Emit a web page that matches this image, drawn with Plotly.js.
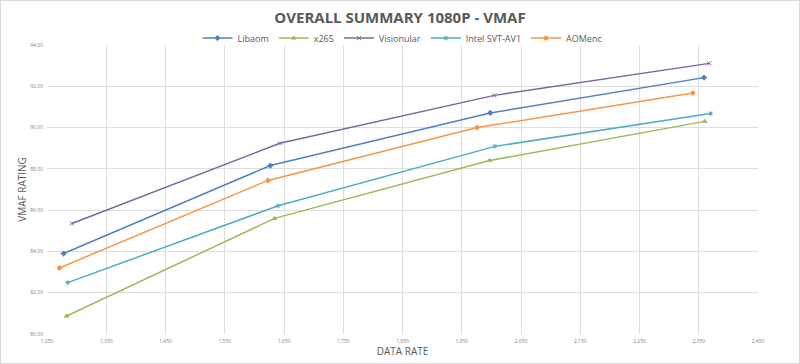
<!DOCTYPE html>
<html>
<head>
<meta charset="utf-8">
<script src="https://cdn.plot.ly/plotly-3.0.1.min.js"></script>
<style>
html,body{margin:0;padding:0;background:#fff;}
#chart{width:800px;height:364px;box-sizing:border-box;border:1px solid #D9D9D9;}
</style>
</head>
<body>
<div id="chart"></div>
<script>
// Data
const libaomRate = [1278, 1627, 1998, 2359];
const libaomVmaf = [83.90, 88.16, 90.71, 92.42];
const x265Rate = [1283, 1634, 1997, 2360];
const x265Vmaf = [80.87, 85.60, 88.40, 90.30];
const visionularRate = [1292, 1643, 2005, 2368];
const visionularVmaf = [85.35, 89.24, 91.56, 93.11];
const intelRate = [1285, 1640, 2006, 2370];
const intelVmaf = [82.49, 86.21, 89.09, 90.68];
const aomencRate = [1271, 1623, 1976, 2340];
const aomencVmaf = [83.20, 87.44, 90.00, 91.67];

const xTickVals = [1250, 1350, 1450, 1550, 1650, 1750, 1850, 1950, 2050, 2150, 2250, 2350, 2450];
const yTickVals = [80, 82, 84, 86, 88, 90, 92, 94];

function series(name, x, y, color, symbol, size) {
  return {
    type: 'scatter', mode: 'lines+markers', name: name, x: x, y: y,
    line: {color: color, width: 1.5},
    marker: {color: color, symbol: symbol, size: size, line: {color: color, width: 1}}
  };
}

const data = [
  series('Libaom', libaomRate, libaomVmaf, '#4F81BD', 'diamond', 4),
  series('x265', x265Rate, x265Vmaf, '#9BBB59', 'triangle-up', 4),
  series('Visionular', visionularRate, visionularVmaf, '#8064A2', 'x-thin', 4),
  series('Intel SVT-AV1', intelRate, intelVmaf, '#4BACC6', 'asterisk-open', 4),
  series('AOMenc', aomencRate, aomencVmaf, '#F79646', 'circle', 4)
];

const layout = {
  width: 798, height: 362,
  margin: {l: 46, r: 41, t: 44, b: 29, autoexpand: false},
  paper_bgcolor: '#fff', plot_bgcolor: '#fff',
  font: {family: '"Open Sans", sans-serif', color: '#595959'},
  title: {
    text: '<b>OVERALL SUMMARY 1080P - VMAF</b>',
    font: {size: 15, color: '#595959', family: '"Open Sans", sans-serif'},
    x: 0.5, xanchor: 'center', y: 0.953, yanchor: 'middle'
  },
  showlegend: true,
  legend: {
    orientation: 'h', x: 0.5, xanchor: 'center', y: 1.024, yanchor: 'middle',
    font: {size: 9, color: '#595959', family: '"Open Sans", sans-serif'},
    itemwidth: 30, entrywidth: 0, bgcolor: 'rgba(0,0,0,0)'
  },
  xaxis: {
    range: [1250, 2450], tickvals: xTickVals, tickformat: ',d',
    showgrid: true, gridcolor: '#DEDEDE', gridwidth: 1,
    zeroline: false, showline: false, ticks: '', ticklabelstandoff: 3,
    tickfont: {size: 5, color: '#7F7F7F', family: '"Open Sans", sans-serif'},
    title: {text: 'DATA RATE', font: {size: 10, color: '#595959', family: '"Open Sans", sans-serif'}, standoff: 3}
  },
  yaxis: {
    range: [80, 94], tickvals: yTickVals, tickformat: '.2f',
    showgrid: true, gridcolor: '#DEDEDE', gridwidth: 1,
    zeroline: false, showline: false, ticks: '', ticklabelstandoff: 3,
    tickfont: {size: 5, color: '#7F7F7F', family: '"Open Sans", sans-serif'},
    title: {text: 'VMAF RATING', font: {size: 10, color: '#595959', family: '"Open Sans", sans-serif'}, standoff: 1}
  }
};

Plotly.newPlot('chart', data, layout, {displayModeBar: false, staticPlot: true});
</script>
</body>
</html>
